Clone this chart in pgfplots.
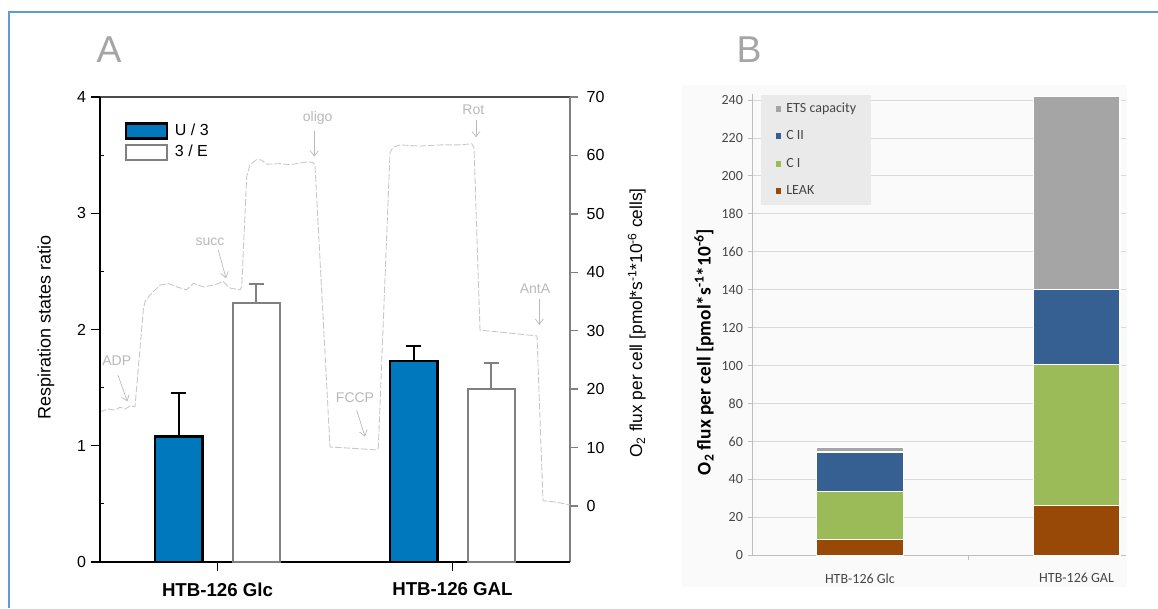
\documentclass[border=0pt]{standalone}
\usepackage{pgfplots}
\pgfplotsset{compat=1.18}
\usepackage{fontspec}
\setmainfont{Liberation Sans}
\newfontfamily\calibri{Carlito}
\usetikzlibrary{arrows.meta}
\definecolor{ublue}{RGB}{0,120,190}
\definecolor{egray}{RGB}{128,128,128}
\definecolor{tracegray}{RGB}{200,200,200}
\definecolor{annotgray}{RGB}{185,185,185}
\definecolor{frameblue}{RGB}{95,155,215}
\definecolor{leak}{RGB}{152,72,7}
\definecolor{ci}{RGB}{155,187,89}
\definecolor{cii}{RGB}{55,96,146}
\definecolor{ets}{RGB}{165,165,165}
\definecolor{bgrid}{RGB}{217,217,217}
\definecolor{baxis}{RGB}{190,190,190}
\definecolor{btext}{RGB}{70,70,70}
\definecolor{legbg}{RGB}{234,234,234}
\definecolor{panelbg}{RGB}{250,250,250}
\definecolor{labgray}{RGB}{165,165,165}
\tikzset{
  annot/.style={text=annotgray, font=\fontsize{10.5}{10.5}\selectfont, inner sep=0pt},
  annarrow/.style={annotgray, line width=0.5pt, -{Straight Barb[length=4pt,width=6pt]}},
}

\begin{document}
\begin{tikzpicture}
\useasboundingbox (0,0) rectangle (868.5pt,456pt);
\fill[white] (0,0) rectangle (868.5pt,456pt);
\draw[frameblue, line width=1.1pt] (6.75pt,0) -- (6.75pt,447pt) -- (868.5pt,447pt);
\fill[panelbg] (511.5pt,15.75pt) rectangle (845.25pt,392.25pt);
\node[text=labgray, font=\fontsize{28}{28}\selectfont] at (81.75pt,418.5pt) {A};
\node[text=labgray, font=\fontsize{28}{28}\selectfont] at (561.75pt,418.5pt) {B};

% ---------------- Panel A: oxygraph trace on right axis
\begin{axis}[
  at={(75pt,34.5pt)}, anchor=south west, scale only axis,
  width=352.5pt, height=348.75pt,
  xmin=0, xmax=470, ymin=-9.584, ymax=70,
  axis x line*=top, axis y line*=right,
  xtick=\empty,
  ytick={0,10,...,70},
  tick align=outside, major tick length=6pt,
  axis line style={-},
  x axis line style={black!70, line width=0.8pt},
  y axis line style={egray, line width=1pt},
  ytick style={egray, line width=1pt},
  yticklabel style={font=\fontsize{12}{12}\selectfont, text=black, xshift=3pt},
  /pgf/number format/assume math mode=true,
  ylabel={O\textsubscript{2} flux per cell [pmol*s\textsuperscript{-1}*10\textsuperscript{-6} cells]},
  ylabel style={font=\fontsize{13}{13}\selectfont, at={(axis description cs:1.142,0.514)}, anchor=center},
  clip=false,
]
\addplot[tracegray, line width=0.65pt, dash pattern=on 5pt off 1.5pt] coordinates {
(0,16.1) (8,16.6) (15,16.4) (20,16.9) (25,16.6) (30,17.1) (35,17.0) (39,25) (43.3,33.5)
(45,35.0) (50,36.1) (60,37.8) (68.3,38.1) (76.7,37.5) (86.7,37.0) (93.3,38.1) (103.3,37.5)
(113.3,37.8) (123.3,38.4) (130,37.3) (140,37.0) (141.7,37.5) (146.7,56.4) (150,58.4)
(156.7,59.3) (161.7,59.2) (166.7,58.5) (180,58.6) (190,58.4) (200,58.7) (208,58.9)
(213,58.8) (215,58.3) (230,10.1) (250,9.9) (276.7,9.6) (278.3,10.0) (290,60.5) (293.3,61.4)
(300,61.8) (320,61.6) (340,61.8) (360,61.8) (371.7,62.0) (374,61.4) (380,30.1) (410,29.6)
(437,29.1) (443,0.9) (455,0.7) (470,0.2)};
\node[annot] at (axis cs:16.7,24.8) {ADP};
\draw[annarrow] (axis cs:18,22.4) -- (axis cs:27.3,17.9);
\node[annot] at (axis cs:110,45.2) {succ};
\draw[annarrow] (axis cs:118.3,43.8) -- (axis cs:126,39.0);
\node[annot] at (axis cs:217.7,66.5) {oligo};
\draw[annarrow] (axis cs:214.3,64.1) -- (axis cs:214.3,59.8);
\node[annot] at (axis cs:255,18.5) {FCCP};
\draw[annarrow] (axis cs:256.7,16.4) -- (axis cs:265,11.9);
\node[annot] at (axis cs:373.3,67.9) {Rot};
\draw[annarrow] (axis cs:376,66.1) -- (axis cs:376,63.1);
\node[annot] at (axis cs:435,37.1) {AntA};
\draw[annarrow] (axis cs:439.3,35.5) -- (axis cs:439.3,31.0);
\end{axis}

% ---------------- Panel A: bars on left axis
\begin{axis}[
  at={(75pt,34.5pt)}, anchor=south west, scale only axis,
  width=352.5pt, height=348.75pt,
  xmin=0.5, xmax=2.5, ymin=0, ymax=4,
  axis x line*=bottom, axis y line*=left,
  axis line style={-, black, line width=0.8pt},
  xtick={1,2}, xticklabels={HTB-126 Glc, HTB-126 GAL},
  xticklabel style={font=\bfseries\fontsize{14}{14}\selectfont, yshift=-5pt},
  ytick={0,1,2,3,4},
  extra y ticks={0.5,1.5,2.5,3.5}, extra y tick labels={},
  extra y tick style={tick align=inside, major tick length=3pt},
  tick align=outside, major tick length=7pt,
  tick style={black, line width=0.8pt},
  yticklabel style={font=\fontsize{12}{12}\selectfont},
  /pgf/number format/assume math mode=true,
  ylabel={Respiration states ratio},
  ylabel style={font=\fontsize{13.5}{13.5}\selectfont, at={(axis description cs:-0.115,0.505)}, anchor=center},
  legend style={at={(axis description cs:0.0517,0.946)}, anchor=north west, draw=none, fill=none,
    inner sep=0pt, row sep=3pt, column sep=5pt, font=\fontsize{12}{12}\selectfont,
    nodes={inner sep=0pt}},
  legend cell align=left,
  legend image code/.code={\draw[#1,/tikz/.cd] (0pt,-5.6pt) rectangle (31pt,5.6pt);},
]
\addplot[ybar, bar width=0.202, bar shift=0pt, fill=ublue, draw=black, line width=1.8pt,
  error bars/.cd, y dir=plus, y explicit,
  error bar style={black, line width=1.3pt},
  error mark options={rotate=90, black, line width=1.3pt, mark size=5.6pt}]
  coordinates {(0.835,1.078) +- (0,0.378) (1.835,1.729) +- (0,0.129)};
\addlegendentry{U / 3}
\addplot[ybar, bar width=0.202, bar shift=0pt, fill=white, draw=egray, line width=1.5pt,
  error bars/.cd, y dir=plus, y explicit,
  error bar style={egray, line width=1.3pt},
  error mark options={rotate=90, egray, line width=1.3pt, mark size=5.6pt}]
  coordinates {(1.165,2.225) +- (0,0.164) (2.165,1.486) +- (0,0.228)};
\addlegendentry{3 / E}
\end{axis}

% ---------------- Panel B: stacked bars
\begin{axis}[
  at={(564.2pt,39.5pt)}, anchor=south west, scale only axis,
  width=280.3pt, height=345.8pt,
  xmin=-0.497, xmax=1.228, ymin=0, ymax=243,
  ybar stacked, bar width=0.4,
  axis x line*=bottom, axis y line*=left,
  axis line style={-, baxis, line width=0.8pt},
  ytick={0,20,...,240},
  ymajorgrids, grid style={bgrid, line width=0.6pt},
  xtick={0.5}, xticklabels={},
  extra x ticks={0,1}, extra x tick labels={HTB-126 Glc, HTB-126 GAL},
  extra x tick style={major tick length=0pt, grid=none},
  tick align=outside, major tick length=3.5pt,
  tick style={baxis, line width=0.6pt},
  tick label style={font=\calibri\fontsize{10.5}{10.5}\selectfont, text=btext},
  xticklabel style={yshift=-10pt},
  /pgf/number format/assume math mode=true,
  ylabel={O\textsubscript{2} flux per cell [pmol*s\textsuperscript{-1}*10\textsuperscript{-6}]},
  ylabel style={font=\calibri\bfseries\fontsize{14.5}{14.5}\selectfont, at={(axis description cs:-0.129,0.441)}, anchor=center},
  legend style={at={(axis description cs:0.023,0.998)}, anchor=north west, draw=none, fill=legbg,
    inner xsep=11pt, inner ysep=5pt, row sep=10.6pt, column sep=3.7pt,
    font=\calibri\fontsize{10.5}{10.5}\selectfont, text=btext,
    nodes={inner sep=0pt, text height=7.5pt, text depth=2.5pt}},
  legend cell align=left,
  reverse legend,
  legend image code/.code={\fill[#1,/tikz/.cd,draw=none] (0pt,-2.1pt) rectangle (4.2pt,2.1pt);},
]
\addplot[fill=leak, draw=white, line width=1pt] coordinates {(0,8.2) (1,26.1)};
\addlegendentry{LEAK}
\addplot[fill=ci, draw=white, line width=1pt] coordinates {(0,25.5) (1,74.4)};
\addlegendentry{C I}
\addplot[fill=cii, draw=white, line width=1pt] coordinates {(0,20.8) (1,39.7)};
\addlegendentry{C II}
\addplot[fill=ets, draw=white, line width=1pt] coordinates {(0,2.4) (1,101.6)};
\addlegendentry{ETS capacity}
\end{axis}
\end{tikzpicture}
\end{document}
